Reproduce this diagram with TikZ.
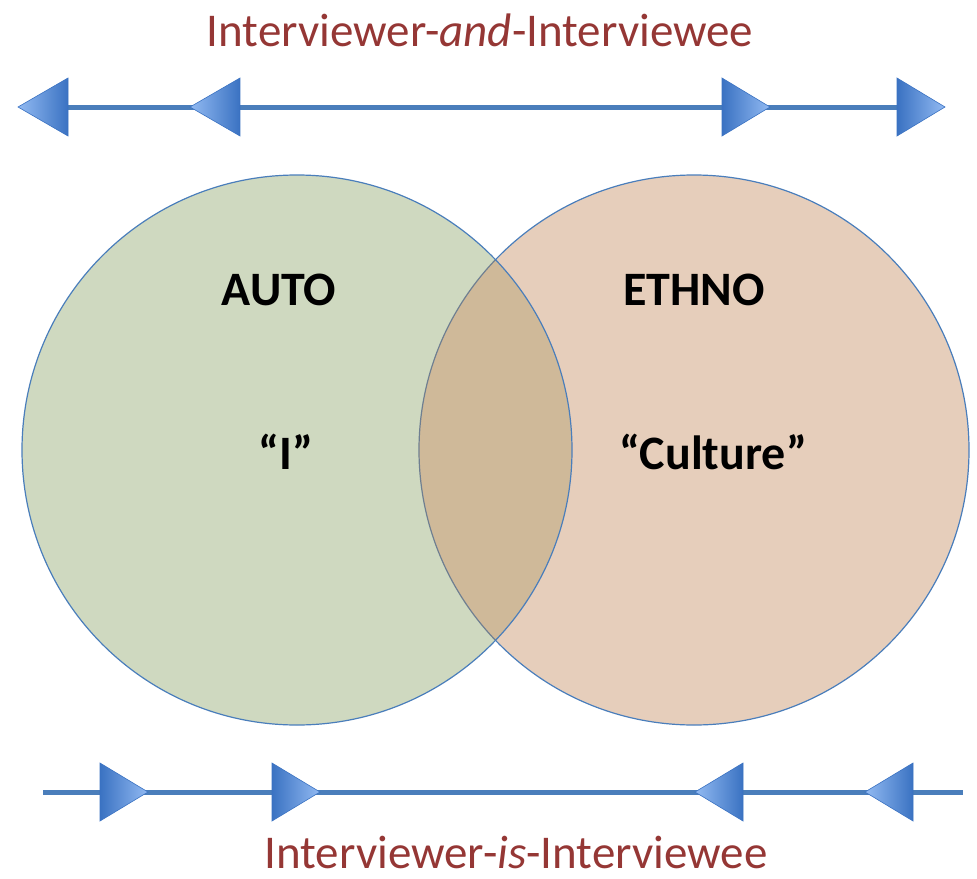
\documentclass[tikz,border=0pt]{standalone}
\usepackage{fontspec}
\setmainfont{Carlito}
\definecolor{linea}{RGB}{74,126,187}
\definecolor{scuro}{RGB}{58,114,194}
\definecolor{chiaro}{RGB}{146,186,242}
\definecolor{rosso}{RGB}{149,55,53}
\definecolor{verde}{RGB}{207,217,192}
\definecolor{pesca}{RGB}{230,206,187}
\definecolor{misto}{RGB}{207,185,153}
\tikzset{
  asse/.style={draw=linea,line width=5pt},
  cerchio/.style={draw=linea,line width=1.2pt},
  titolo/.style={text=rosso,inner sep=0pt,font=\fontsize{47}{54}\selectfont},
  etichetta/.style={font=\fontsize{48}{56}\selectfont\bfseries}
}
\begin{document}
\begin{tikzpicture}[x=1pt,y=-1pt]
  \useasboundingbox (0,0) rectangle (977,878);
  %cerchi
  \fill[verde] (297,450) circle (275);
  \fill[pesca] (694,450) circle (275);
  \begin{scope}
    \clip (297,450) circle (275);
    \fill[misto] (694,450) circle (275);
    \draw[line width=1.2pt,gray!70!linea] (694,450) circle (275);
  \end{scope}
  \draw[cerchio] (297,450) circle (275);
  \begin{scope}[even odd rule]
    \clip (0,0) rectangle (977,878) (297,450) circle (275);
    \draw[cerchio] (694,450) circle (275);
  \end{scope}
  \node[etichetta] (auto) at (279,290) {AUTO};
  \node[etichetta] (ethno) at (694,290) {ETHNO};
  \node[etichetta] (io) at (286,452) {“I”};
  \node[etichetta] (cultura) at (713,452) {“Culture”};
  %freccia in alto
  \draw[asse] (22,107) -- (900,107);
  \foreach \t in {18,190}
    \shade[left color=chiaro,right color=scuro,draw=scuro,line width=0.6pt]
      (\t,107) -- (\t+50,78) -- (\t+50,136) -- cycle;
  \foreach \t in {770,945}
    \shade[left color=scuro,right color=chiaro,draw=scuro,line width=0.6pt]
      (\t,107) -- (\t-48,78) -- (\t-48,136) -- cycle;
  \node[titolo] (sopra) at (480,30) {Interviewer-\textit{and}-Interviewee};
  %freccia in basso
  \draw[asse] (43,792) -- (963,792);
  \foreach \t in {148,320}
    \shade[left color=scuro,right color=chiaro,draw=scuro,line width=0.6pt]
      (\t,792) -- (\t-48,763) -- (\t-48,821) -- cycle;
  \foreach \t in {695,865}
    \shade[left color=chiaro,right color=scuro,draw=scuro,line width=0.6pt]
      (\t,792) -- (\t+48,763) -- (\t+48,821) -- cycle;
  \node[titolo] (sotto) at (516,852) {Interviewer-\textit{is}-Interviewee};
\end{tikzpicture}
\end{document}
